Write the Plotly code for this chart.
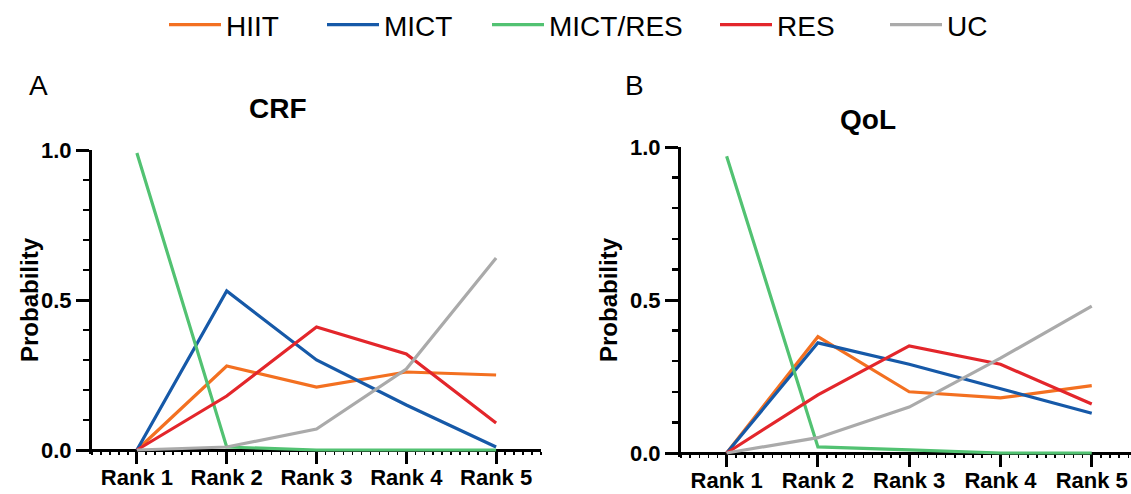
import plotly.graph_objects as go

# ---- data ----
ranks = [1, 2, 3, 4, 5]
rank_labels = ["Rank 1", "Rank 2", "Rank 3", "Rank 4", "Rank 5"]
series_names = ["HIIT", "MICT", "MICT/RES", "RES", "UC"]
series_colors = ["#F37021", "#1659A8", "#52C272", "#E3262B", "#AAAAAA"]

crf_hiit = [0.0, 0.28, 0.21, 0.26, 0.25]
crf_mict = [0.0, 0.53, 0.30, 0.15, 0.01]
crf_mictres = [0.99, 0.01, 0.0, 0.0, 0.0]
crf_res = [0.0, 0.18, 0.41, 0.32, 0.09]
crf_uc = [0.0, 0.01, 0.07, 0.27, 0.64]

qol_hiit = [0.0, 0.38, 0.20, 0.18, 0.22]
qol_mict = [0.0, 0.36, 0.29, 0.21, 0.13]
qol_mictres = [0.97, 0.02, 0.01, 0.0, 0.0]
qol_res = [0.0, 0.19, 0.35, 0.29, 0.16]
qol_uc = [0.0, 0.05, 0.15, 0.31, 0.48]

y_ticks = [0.0, 0.5, 1.0]

crf = [crf_hiit, crf_mict, crf_mictres, crf_res, crf_uc]
qol = [qol_hiit, qol_mict, qol_mictres, qol_res, qol_uc]

W, H = 1131, 494
FONT = "Liberation Sans, Arial, sans-serif"
legend_line_x = [170, 328, 493, 721, 891]   # left end of each legend swatch (px)


def px(v):
    return v / W


def py(v):
    return 1 - v / H


fig = go.Figure()
legend_ids = ["legend", "legend2", "legend3", "legend4", "legend5"]

for i, name in enumerate(series_names):
    fig.add_trace(go.Scatter(
        x=ranks, y=crf[i], mode="lines", name=name, legendgroup=name,
        legend=legend_ids[i],
        line=dict(color=series_colors[i], width=3.2), xaxis="x", yaxis="y",
        showlegend=True))
for i, name in enumerate(series_names):
    fig.add_trace(go.Scatter(
        x=ranks, y=qol[i], mode="lines", name=name, legendgroup=name,
        line=dict(color=series_colors[i], width=3.2), xaxis="x2", yaxis="y2",
        showlegend=False))

YMIN = -0.012


def yaxis_cfg(top_px, zero_px, xname):
    per = zero_px - top_px
    bottom_px = zero_px + (-YMIN) * per
    return dict(
        domain=[py(bottom_px), py(top_px)], range=[YMIN, 1.0], anchor=xname,
        showline=True, linewidth=3, linecolor="black",
        ticks="outside", ticklen=13, tickwidth=3, tickcolor="black",
        tickvals=y_ticks, tickformat=".1f",
        tickfont=dict(family=FONT, size=22, color="black", weight="bold"),
        minor=dict(ticks="outside", tick0=0, dtick=0.1, ticklen=6,
                   tickwidth=2.5, tickcolor="black", showgrid=False),
        showgrid=False, zeroline=False, layer="below traces", fixedrange=True,
        automargin=False)


def xaxis_cfg(left_px, right_px, zero_px, xmax):
    return dict(
        domain=[px(left_px), px(right_px)], range=[0.5, xmax],
        anchor="free", position=py(zero_px),
        showline=True, linewidth=3, linecolor="black",
        ticks="outside", ticklen=12, tickwidth=3, tickcolor="black",
        tickvals=ranks, ticktext=rank_labels, ticklabelstandoff=-5,
        tickfont=dict(family=FONT, size=22, color="black", weight="bold"),
        minor=dict(ticks="outside", tick0=0.5, dtick=0.1, ticklen=3,
                   tickwidth=1.5, tickcolor="black", showgrid=False),
        showgrid=False, zeroline=False, layer="below traces", fixedrange=True,
        automargin=False)


layout = dict(
    width=W, height=H, autosize=False,
    margin=dict(l=0, r=0, t=0, b=0, pad=0, autoexpand=False),
    paper_bgcolor="white", plot_bgcolor="white",
    font=dict(family=FONT, color="black"),
    xaxis=xaxis_cfg(92, 541, 450, 5.5),
    yaxis=yaxis_cfg(150, 450, "x"),
    xaxis2=xaxis_cfg(681, 1131, 453, 5.43),
    yaxis2=yaxis_cfg(147, 453, "x2"),
    showlegend=True,
)
for i, lid in enumerate(legend_ids):
    layout[lid] = dict(
        orientation="h", x=px(legend_line_x[i] - 6), xanchor="left",
        y=py(25), yanchor="middle",
        font=dict(family=FONT, size=28, color="black"),
        itemwidth=52, bgcolor="rgba(0,0,0,0)", borderwidth=0)
fig.update_layout(**layout)

annotations = [
    dict(text="A", x=px(38), y=py(86), font=dict(family=FONT, size=28)),
    dict(text="B", x=px(634), y=py(86), font=dict(family=FONT, size=28)),
    dict(text="<b>CRF</b>", x=px(278), y=py(108), font=dict(family=FONT, size=28)),
    dict(text="<b>QoL</b>", x=px(868), y=py(120), font=dict(family=FONT, size=28)),
    dict(text="<b>Probability</b>", x=px(29), y=py(300), textangle=-90,
         font=dict(family=FONT, size=24)),
    dict(text="<b>Probability</b>", x=px(608), y=py(300), textangle=-90,
         font=dict(family=FONT, size=24)),
]
for a in annotations:
    a.update(xref="paper", yref="paper", showarrow=False,
             xanchor="center", yanchor="middle")
fig.update_layout(annotations=annotations)

fig.write_html(
    "out.html",
    config={"displayModeBar": False, "staticPlot": True},
    post_script="document.body.style.margin='0px';document.body.style.overflow='hidden';")
